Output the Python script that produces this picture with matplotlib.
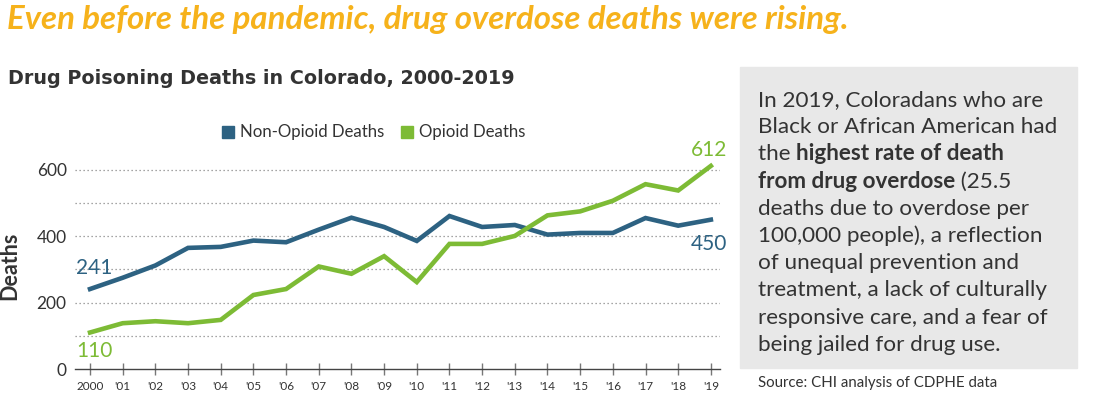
import matplotlib.pyplot as plt
from matplotlib.patches import Rectangle

years = list(range(2000, 2020))
year_labels = ["2000", "'01", "'02", "'03", "'04", "'05", "'06", "'07", "'08", "'09",
               "'10", "'11", "'12", "'13", "'14", "'15", "'16", "'17", "'18", "'19"]
non_opioid = [241, 275, 312, 365, 368, 387, 382, 420, 456, 428,
              386, 461, 428, 434, 405, 410, 410, 455, 432, 450]
opioid = [110, 138, 144, 138, 148, 223, 241, 309, 287, 340,
          262, 377, 377, 401, 463, 475, 507, 557, 538, 612]

BLUE = "#2d6282"
GREEN = "#7dbb35"
ORANGE = "#f6b21b"
DARK = "#333333"

plt.rcParams['font.family'] = ['Lato', 'DejaVu Sans']

fig = plt.figure(figsize=(11.02, 3.98), dpi=100)
W, H = 1102, 398

def fx(px):
    return px / W

def fy(py):
    return 1 - py / H

ax = fig.add_axes([fx(75), fy(369), fx(720) - fx(75), fy(150) - fy(369)])
ax.plot(years, non_opioid, color=BLUE, lw=3.3, solid_joinstyle='miter', zorder=3)
ax.plot(years, opioid, color=GREEN, lw=3.3, solid_joinstyle='miter', zorder=3)
ax.set_xlim(1999.54, 2019.28)
ax.set_ylim(0, 660)

for v in range(100, 700, 100):
    ax.axhline(v, color="#888888", lw=0.9, ls=(0, (1, 2.2)), zorder=1)

ax.set_yticks([0, 200, 400, 600])
ax.set_yticklabels(["0", "200", "400", "600"], fontsize=12.5, color=DARK)
ax.set_xticks(years)
ax.set_xticklabels(year_labels, fontsize=8.5, color=DARK)
ax.tick_params(axis='x', direction='inout', length=9, width=1, color="#777777", pad=4)
ax.tick_params(axis='y', length=0, pad=6)
for s in ['top', 'right', 'left']:
    ax.spines[s].set_visible(False)
ax.spines['bottom'].set_color("#444444")
ax.spines['bottom'].set_linewidth(1.0)
ax.set_ylabel("Deaths", fontsize=15.5, fontweight='bold', color=DARK)
ax.yaxis.set_label_coords(-0.085, 0.47)

# end labels
ax.annotate(str(non_opioid[0]), (years[0], non_opioid[0]), xytext=(-10, 8),
            textcoords='offset points', color=BLUE, fontsize=15, va='bottom')
ax.annotate(str(opioid[0]), (years[0], opioid[0]), xytext=(-10, -6),
            textcoords='offset points', color=GREEN, fontsize=15, va='top')
ax.annotate(str(opioid[-1]), (years[-1], opioid[-1]), xytext=(12, 4),
            textcoords='offset points', color=GREEN, fontsize=15, va='bottom', ha='right')
ax.annotate(str(non_opioid[-1]), (years[-1], non_opioid[-1]), xytext=(12, -10),
            textcoords='offset points', color=BLUE, fontsize=15, va='top', ha='right')

# legend
fig.patches.append(Rectangle((fx(222), fy(138)), fx(12), fy(126) - fy(138),
                             transform=fig.transFigure, color=BLUE))
fig.text(fx(240), fy(132), "Non-Opioid Deaths", fontsize=12.1, color=DARK, va='center')
fig.patches.append(Rectangle((fx(401), fy(138)), fx(12), fy(126) - fy(138),
                             transform=fig.transFigure, color=GREEN))
fig.text(fx(419), fy(132), "Opioid Deaths", fontsize=12.1, color=DARK, va='center')

# titles
fig.text(fx(7), fy(20), "Even before the pandemic, drug overdose deaths were rising.",
         fontsize=23.8, fontweight='bold', fontstyle='italic', color=ORANGE, va='center')
fig.text(fx(8), fy(78), "Drug Poisoning Deaths in Colorado, 2000-2019",
         fontsize=13.75, fontweight='bold', color=DARK, va='center', family='DejaVu Sans')

# side box
fig.patches.append(Rectangle((fx(740), fy(368)), fx(1077) - fx(740), fy(67) - fy(368),
                             transform=fig.transFigure, color="#e8e8e8", zorder=0))

box_lines = [
    [("In 2019, Coloradans who are", 'normal')],
    [("Black or African American had", 'normal')],
    [("the ", 'normal'), ("highest rate of death", 'bold')],
    [("from drug overdose", 'bold'), (" (25.5", 'normal')],
    [("deaths due to overdose per", 'normal')],
    [("100,000 people), a reflection", 'normal')],
    [("of unequal prevention and", 'normal')],
    [("treatment, a lack of culturally", 'normal')],
    [("responsive care, and a fear of", 'normal')],
    [("being jailed for drug use.", 'normal')],
]
renderer = fig.canvas.get_renderer()
y0 = 106
step = 27.2
for i, parts in enumerate(box_lines):
    x = 758
    for txt, wt in parts:
        t = fig.text(fx(x), fy(y0 + i * step), txt, fontsize=16.2, fontweight=wt,
                     color=DARK, va='baseline')
        bb = t.get_window_extent(renderer)
        x += bb.width

fig.text(fx(758), fy(383), "Source: CHI analysis of CDPHE data", fontsize=10.8,
         color=DARK, va='center')

fig.savefig("out.png", dpi=100)
